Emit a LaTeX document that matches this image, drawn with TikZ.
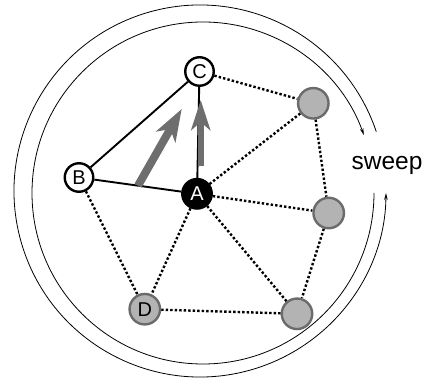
\documentclass[tikz,border=0pt]{standalone}
\usepackage{fontspec}
\setmainfont{Liberation Sans}
\usetikzlibrary{arrows.meta,calc}
\pgfdeclarelayer{background}
\pgfsetlayers{background,main}
\definecolor{arrgray}{HTML}{6E6E6E}
\definecolor{nodefill}{HTML}{B3B3B3}
\definecolor{nodeborder}{HTML}{6B6B6B}
\begin{document}
\begin{tikzpicture}[x=1pt,y=1pt,
  wnode/.style={circle,draw=black,fill=white,line width=2.4pt,minimum size=28.5pt,inner sep=0pt,font=\fontsize{20}{22}\selectfont},
  bnode/.style={wnode,fill=black,text=white,minimum size=29.5pt},
  gnode/.style={circle,draw=nodeborder,fill=nodefill,line width=2.4pt,minimum size=30.5pt,inner sep=0pt,font=\fontsize{20}{22}\selectfont},
  solidedge/.style={line width=1.9pt,black},
  dotedge/.style={line width=2.4pt,dash pattern=on 2.4pt off 2.1pt,black},
  ring/.style={line width=0.8pt,black,-{Stealth[length=7pt,width=3.6pt]}},
  bigarrow/.style={arrgray,-{Stealth[length=30pt,width=19pt,inset=8pt]}}]
\useasboundingbox (0,0) rectangle (427,382);
% nodes
\node[wnode] (C) at (199.5,310.5) {C};
\node[wnode] (B) at (79,204.5) {B};
\node[bnode] (A) at (197,188.2) {A};
\node[gnode] (D) at (144.8,72.8) {D};
\node[gnode] (G1) at (313.3,278.7) {};
\node[gnode] (G2) at (328.7,169) {};
\node[gnode] (G3) at (297,68.2) {};
\node[anchor=base,inner sep=0pt,font=\fontsize{24.5}{29}\selectfont] (sweep) at (387,212) {sweep};
\begin{pgfonlayer}{background}
% rings
\draw[ring] (200,191) ++(18.6:186) arc[start angle=18.6,end angle=359.4,radius=186];
\draw[ring] (203,189) ++(360:171) arc[start angle=360,end angle=19.8,radius=171];
% solid edges
\draw[solidedge] (B) -- (C);
\draw[solidedge] (B) -- (A);
\draw[solidedge] (A) -- (C);
% dotted edges
\draw[dotedge] (C) -- (G1);
\draw[dotedge] (A) -- (G1);
\draw[dotedge] (G1) -- (G2);
\draw[dotedge] (A) -- (G2);
\draw[dotedge] (A) -- (G3);
\draw[dotedge] (G2) -- (G3);
\draw[dotedge] (D) -- (G3);
\draw[dotedge] (A) -- (D);
\draw[dotedge] (B) -- (D);
% gray arrows
\coordinate (diagbase) at ($(B)!0.5!(A)$);
\coordinate (diagtip) at (181.7,273);
\coordinate (vbase) at (200.7,216);
\coordinate (vtip) at (200.7,282);
\draw[bigarrow,line width=8pt,-{Stealth[length=32pt,width=22pt,inset=9pt]}] (diagbase) -- (diagtip);
\draw[bigarrow,line width=6pt] (vbase) -- (vtip);
\end{pgfonlayer}
\end{tikzpicture}
\end{document}
